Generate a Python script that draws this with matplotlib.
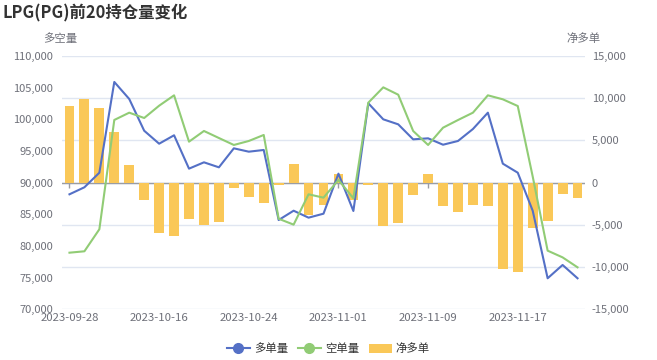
import numpy as np
import matplotlib
matplotlib.use('Agg')
from matplotlib import pyplot as plt
from matplotlib.lines import Line2D
from matplotlib.patches import Patch
from matplotlib.ticker import FuncFormatter

plt.rcParams['font.family'] = ['Noto Sans CJK SC', 'DejaVu Sans']

# 交易日
dates = ['2023-09-28', '2023-10-09', '2023-10-10', '2023-10-11', '2023-10-12',
         '2023-10-13', '2023-10-16', '2023-10-17', '2023-10-18', '2023-10-19',
         '2023-10-20', '2023-10-23', '2023-10-24', '2023-10-25', '2023-10-26',
         '2023-10-27', '2023-10-30', '2023-10-31', '2023-11-01', '2023-11-02',
         '2023-11-03', '2023-11-06', '2023-11-07', '2023-11-08', '2023-11-09',
         '2023-11-10', '2023-11-13', '2023-11-14', '2023-11-15', '2023-11-16',
         '2023-11-17', '2023-11-20', '2023-11-21', '2023-11-22', '2023-11-23']

# 多单量
long_pos = [88160, 89270, 91570, 105900, 103210, 98200, 96150, 97480, 92210, 93210,
            92420, 95420, 94890, 95160, 84100, 85570, 84470, 85100, 91420, 85525,
            102530, 100000, 99210, 96840, 97000, 95990, 96580, 98470, 101050, 93000,
            91570, 85570, 74900, 77000, 74900]

# 空单量
short_pos = [78940, 79160, 82640, 99900, 101050, 100210, 102150, 103790, 96470, 98160,
             97050, 95950, 96580, 97530, 84300, 83370, 88160, 87630, 90420, 87530,
             102630, 105050, 103890, 98160, 95950, 98680, 99890, 101050, 103790, 103160,
             102100, 90970, 79260, 78200, 76630]

# 净多单
net_long = [9100, 9950, 8800, 5950, 2050, -2100, -6020, -6350, -4300, -4980,
            -4700, -650, -1750, -2450, -220, 2150, -3850, -2600, 1080, -2100,
            -240, -5150, -4720, -1450, 980, -2800, -3500, -2650, -2780, -10200,
            -10550, -5400, -4500, -1300, -1800]

blue = '#5470c6'
green = '#91cc75'
yellow = '#fac858'
txt = '#6E7079'
grid_c = '#E0E6F1'

x = np.arange(len(dates))

fig = plt.figure(figsize=(6.57, 3.6), dpi=100)
ax = fig.add_axes([62 / 657, 1 - 309.3 / 360, 523 / 657, 253.3 / 360])
ax2 = ax.twinx()
ax.set_zorder(ax2.get_zorder() + 1)
ax.patch.set_visible(False)

# 净多单 柱子 (右轴)
ax2.set_axisbelow(True)
ax2.grid(axis='y', color=grid_c, lw=1)
ax2.axhline(0, color='#9a9ca3', lw=1, zorder=1)
ax2.vlines(x[::6], -600, 0, color='#9a9ca3', lw=1, zorder=1)
ax2.bar(x, net_long, width=0.66, color=yellow, zorder=2)
ax2.set_ylim(-15000, 15000)
ax2.set_yticks(np.arange(-15000, 15001, 5000))

# 多空量 折线 (左轴)
ax.plot(x, long_pos, color=blue, lw=1.5)
ax.plot(x, short_pos, color=green, lw=1.5)
ax.set_ylim(70000, 110000)
ax.set_yticks(np.arange(70000, 110001, 5000))
ax.set_xlim(-0.5, len(dates) - 0.5)

fmt = FuncFormatter(lambda v, p: f'{int(v):,}')
ax.yaxis.set_major_formatter(fmt)
ax2.yaxis.set_major_formatter(fmt)

# 每 6 个交易日一个标签
ax.set_xticks(x[::6])
ax.set_xticklabels(dates[::6])

for a in (ax, ax2):
    for s in a.spines.values():
        s.set_visible(False)
    a.tick_params(length=0, labelsize=8, labelcolor=txt)
ax.tick_params(axis='y', pad=6.5)
ax2.tick_params(axis='y', pad=5)
ax.tick_params(axis='x', pad=2.5, labelsize=8.2)

fig.text(3 / 657, 1 - 13 / 360, 'LPG(PG)前20持仓量变化', fontsize=11.8,
         fontweight='bold', color='#333333', va='center', ha='left')
fig.text(60 / 657, 1 - 39 / 360, '多空量', fontsize=8.2, color=txt, ha='center', va='center')
fig.text(584 / 657, 1 - 39 / 360, '净多单', fontsize=8.2, color=txt, ha='center', va='center')

handles = [Line2D([], [], color=blue, lw=1.5, marker='o', ms=7),
           Line2D([], [], color=green, lw=1.5, marker='o', ms=7),
           Patch(facecolor=yellow, edgecolor='none')]
fig.legend(handles, ['多单量', '空单量', '净多单'], loc='center',
           bbox_to_anchor=(328.5 / 657, 1 - 349 / 360), ncol=3, frameon=False,
           fontsize=8.2, labelcolor='#333333', handlelength=2.0, handletextpad=0.35,
           columnspacing=0.9, handleheight=0.9)

fig.savefig('out.png', dpi=100)
